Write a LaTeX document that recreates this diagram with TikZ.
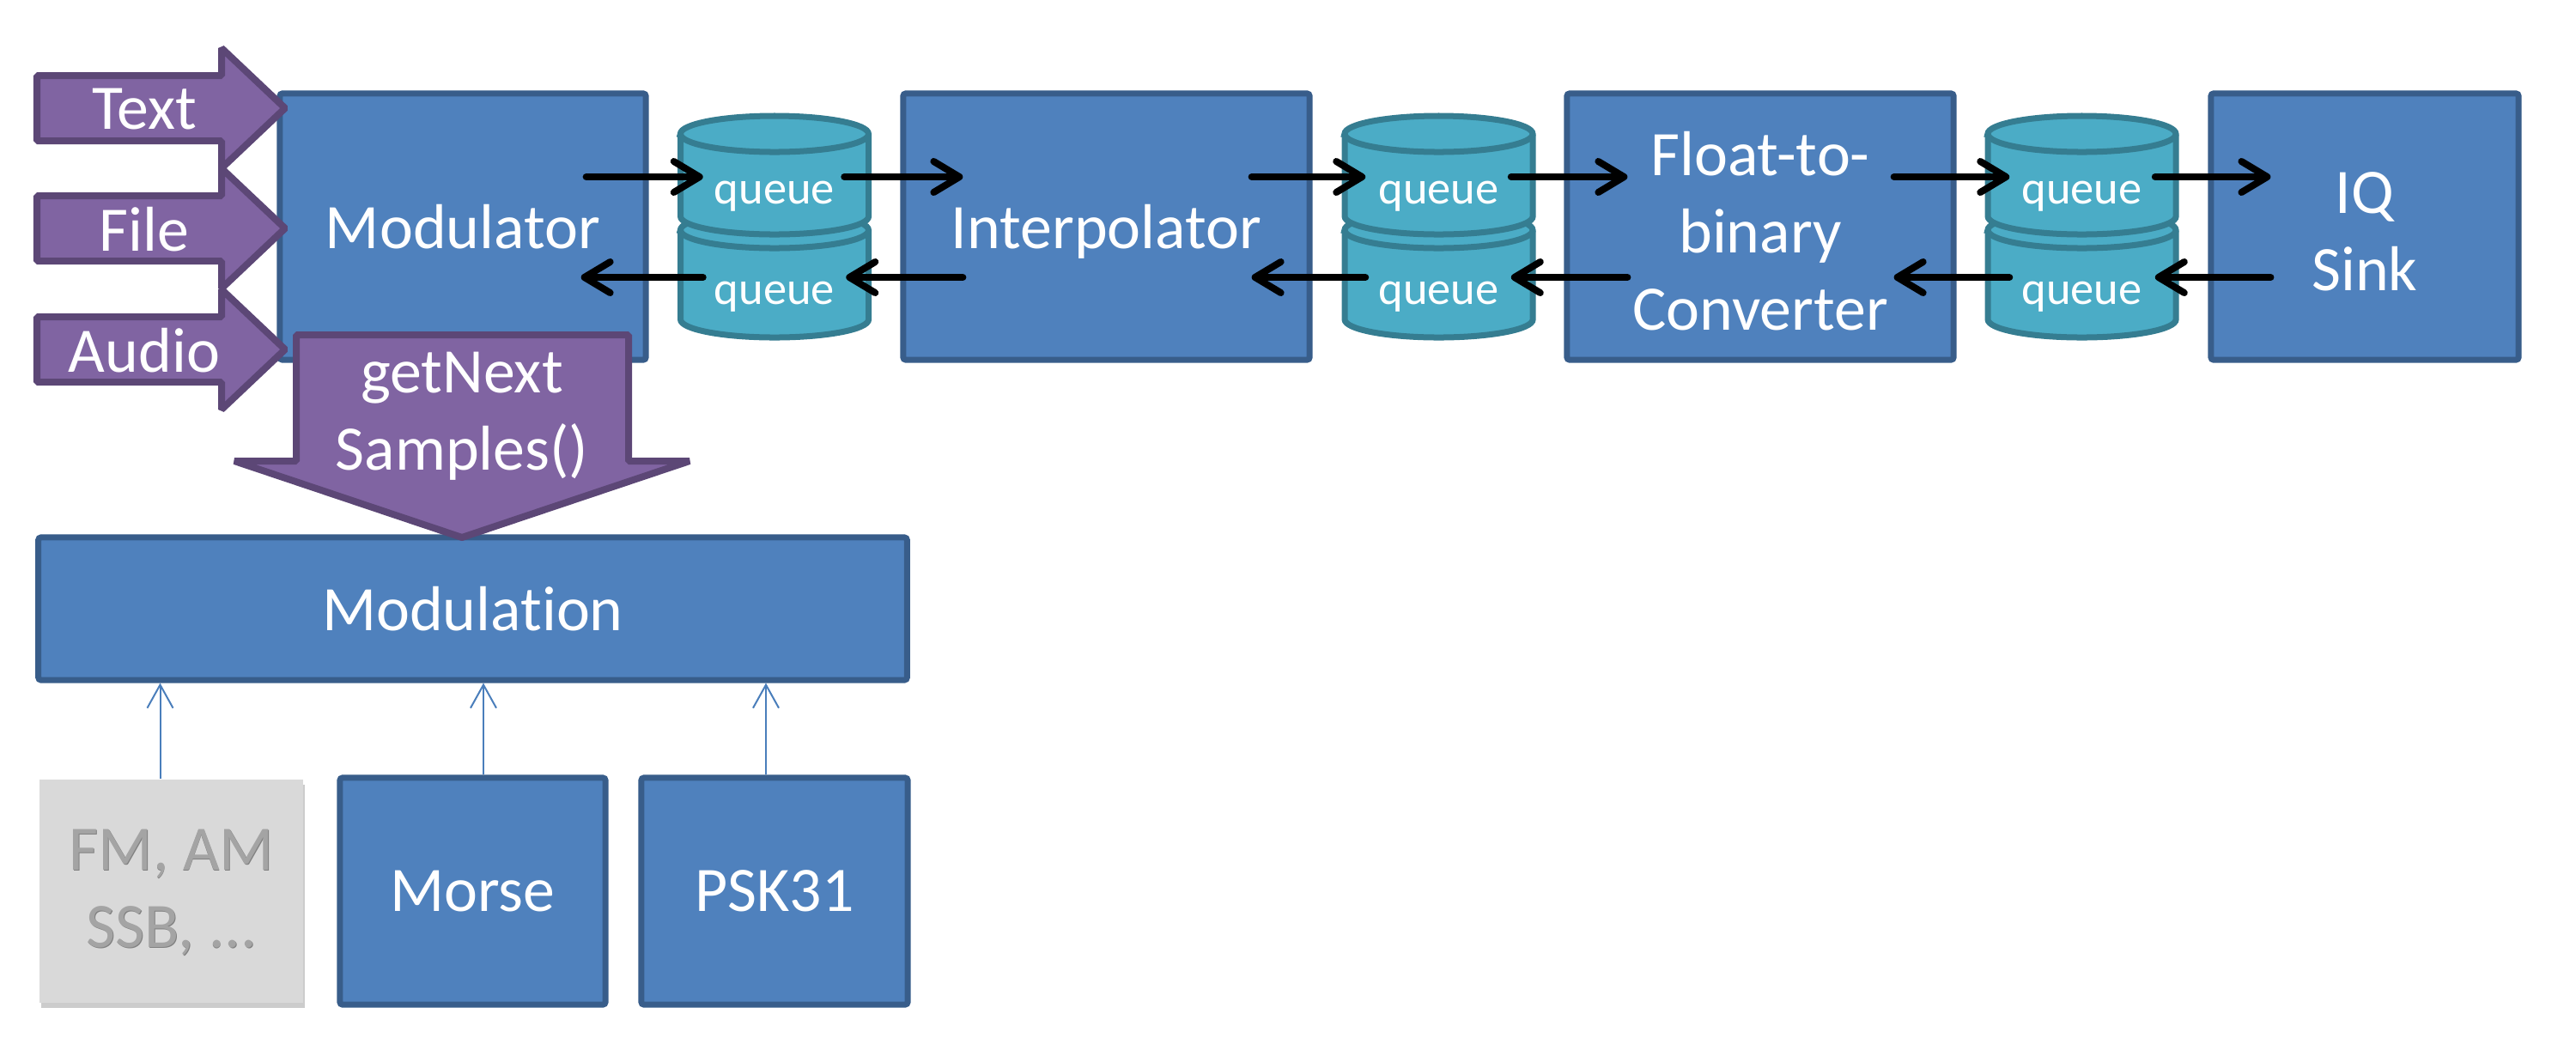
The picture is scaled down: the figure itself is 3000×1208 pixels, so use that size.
\documentclass[tikz,border=0pt]{standalone}
\usepackage{fontspec}
\setmainfont{Carlito}[Ligatures=NoCommon]
\usetikzlibrary{arrows.meta,calc,shadows}
\definecolor{boxfill}{HTML}{4F81BD}
\definecolor{boxline}{HTML}{385D8A}
\definecolor{purfill}{HTML}{8064A2}
\definecolor{purline}{HTML}{5C4776}
\definecolor{cylfill}{HTML}{4BACC6}
\definecolor{cylline}{HTML}{357D91}
\definecolor{greyfill}{HTML}{D9D9D9}
\definecolor{greytext}{HTML}{A4A4A4}
\definecolor{thinblue}{HTML}{4A7EBB}
\newcommand\mainsz{\fontsize{21}{25.5}\selectfont}
\newcommand\queuesz{\fontsize{15.5}{18}\selectfont}
\tikzset{
 box/.style={draw=boxline, fill=boxfill, line width=0.07cm, rounded corners=0.03cm, text=white, font=\mainsz, align=center, inner sep=0pt, text depth=0pt},
 greybox/.style={fill=greyfill, text=greytext, font=\mainsz, align=center, inner sep=0pt,
   drop shadow={shadow xshift=0.02cm, shadow yshift=-0.06cm, opacity=0.25, fill=black!80}},
 purplearrow/.style={draw=purline, fill=purfill, line width=0.08cm, line join=bevel},
 lbl/.style={text=white, font=\mainsz, align=center, inner sep=0pt},
 qlbl/.style={text=white, font=\queuesz, inner sep=0pt},
 cyl/.style={draw=cylline, fill=cylfill, line width=0.07cm},
 cylrim/.style={draw=cylline, line width=0.07cm},
 flow/.style={draw=black, line width=0.08cm, line cap=round, -{Straight Barb[length=0.3cm,width=0.36cm,line cap=round,line join=round]}},
 uses/.style={draw=thinblue, line width=0.02cm, -{Straight Barb[length=0.27cm,width=0.3cm]}},
 qanchor/.style={minimum width=2.19cm, minimum height=2.6cm, inner sep=0pt},
}
\newcommand\queuecyl[1]{%
 \path[cyl] (#1-109.5,268) -- (#1-109.5,372) arc[start angle=180,end angle=360,x radius=1.095cm,y radius=0.21cm] -- (#1+109.5,268) arc[start angle=0,end angle=180,x radius=1.095cm,y radius=0.21cm] -- cycle;
 \path[cylrim] (#1-109.5,268) arc[start angle=180,end angle=360,x radius=1.095cm,y radius=0.21cm];
 \path[cyl] (#1-109.5,156) -- (#1-109.5,252) arc[start angle=180,end angle=360,x radius=1.095cm,y radius=0.21cm] -- (#1+109.5,156) arc[start angle=0,end angle=180,x radius=1.095cm,y radius=0.21cm] -- cycle;
 \path[cylrim] (#1-109.5,156) arc[start angle=180,end angle=360,x radius=1.095cm,y radius=0.21cm];
}
\begin{document}
\begin{tikzpicture}[x=0.01cm,y=-0.01cm]
\useasboundingbox (0,0) rectangle (3000,1208);

% main boxes
\node[box, minimum width=4.26cm, minimum height=3.1cm] (mod) at (539,264) {Modulator};
\node[box, minimum width=4.73cm, minimum height=3.1cm] (interp) at (1288.5,264) {Interpolator};
\node[box, minimum width=4.5cm, minimum height=3.1cm] (float) at (2050,264) {};
\node[lbl] (floatlbl) at (2050,269) {Float-to-\\binary\\Converter};
\node[box, minimum width=3.58cm, minimum height=3.1cm] (iq) at (2754,264) {};
\node[lbl] (iqlbl) at (2754,270) {IQ\\Sink};
\node[box, minimum width=10.11cm, minimum height=1.66cm] (modulation) at (550.5,709) {Modulat\kern0pt ion};
\node[greybox, minimum width=3.07cm, minimum height=2.6cm] (fm) at (199.5,1038) {};
\node[text=black!50, font=\mainsz, align=center, inner sep=0pt] (fmshadow) at (200.8,1040.2) {FM, AM\\SSB, ...};
\node[text=greytext, font=\mainsz, align=center, inner sep=0pt] (fmlbl) at (200,1039.5) {FM, AM\\SSB, ...};
\node[box, minimum width=3.09cm, minimum height=2.64cm] (morse) at (550.5,1038) {Morse};
\node[box, minimum width=3.1cm, minimum height=2.64cm] (psk) at (902,1038) {PSK31};

% queues
\queuecyl{902}
\queuecyl{1675.5}
\queuecyl{2424.5}
\node[qanchor] (q1) at (902,264) {};
\node[qanchor] (q2) at (1675.5,264) {};
\node[qanchor] (q3) at (2424.5,264) {};
\node[qlbl] (q1u) at (902,229) {queue};
\node[qlbl] (q1l) at (902,346) {queue};
\node[qlbl] (q2u) at (1675.5,229) {queue};
\node[qlbl] (q2l) at (1675.5,346) {queue};
\node[qlbl] (q3u) at (2424.5,229) {queue};
\node[qlbl] (q3l) at (2424.5,346) {queue};

% input arrows
\path[purplearrow] (43,88) -- (258,88) -- (258,56) -- (332,126) -- (258,196) -- (258,164) -- (43,164) -- cycle;
\path[purplearrow] (43,228) -- (258,228) -- (258,196) -- (332,266) -- (258,336) -- (258,304) -- (43,304) -- cycle;
\path[purplearrow] (43,369) -- (258,369) -- (258,337) -- (332,407) -- (258,477) -- (258,445) -- (43,445) -- cycle;
\node[lbl] (ltext) at (168,127) {Text};
\node[lbl] (lfile) at (168,267) {File};
\node[lbl] (laudio) at (168,408) {Audio};

% getNextSamples arrow
\path[purplearrow] (345,390) -- (732,390) -- (732,537) -- (803,537) -- (538,626) -- (273,537) -- (345,537) -- cycle;
\node[lbl] (lget) at (538,485) {getNext\\Samples()};

% data flow arrows
\draw[flow] ($(mod.east)+(-73,-58)$) -- ($(q1.west)+(27,-58)$);
\draw[flow] ($(q1.east)+(-29,-58)$) -- ($(interp.west)+(73,-58)$);
\draw[flow] ($(interp.west)+(73,59)$) -- ($(q1.east)+(-27,59)$);
\draw[flow] ($(q1.west)+(27,59)$) -- ($(mod.east)+(-79,59)$);

\draw[flow] ($(interp.east)+(-71,-58)$) -- ($(q2.west)+(25,-58)$);
\draw[flow] ($(q2.east)+(-26,-58)$) -- ($(float.west)+(74,-58)$);
\draw[flow] ($(float.west)+(74,59)$) -- ($(q2.east)+(-26,59)$);
\draw[flow] ($(q2.west)+(25,59)$) -- ($(interp.east)+(-71,59)$);

\draw[flow] ($(float.east)+(-73,-58)$) -- ($(q3.west)+(26,-58)$);
\draw[flow] ($(q3.east)+(-25,-58)$) -- ($(iq.west)+(73,-58)$);
\draw[flow] ($(iq.west)+(73,59)$) -- ($(q3.east)+(-25,59)$);
\draw[flow] ($(q3.west)+(26,59)$) -- ($(float.east)+(-73,59)$);

% uses arrows
\coordinate (a1) at ($(fm.north)+(-13,0)$);
\coordinate (a2) at ($(morse.north)+(12.5,0)$);
\coordinate (a3) at ($(psk.north)+(-10,0)$);
\draw[uses] (a1) -- (a1 |- modulation.south);
\draw[uses] (a2) -- (a2 |- modulation.south);
\draw[uses] (a3) -- (a3 |- modulation.south);
\end{tikzpicture}
\end{document}
